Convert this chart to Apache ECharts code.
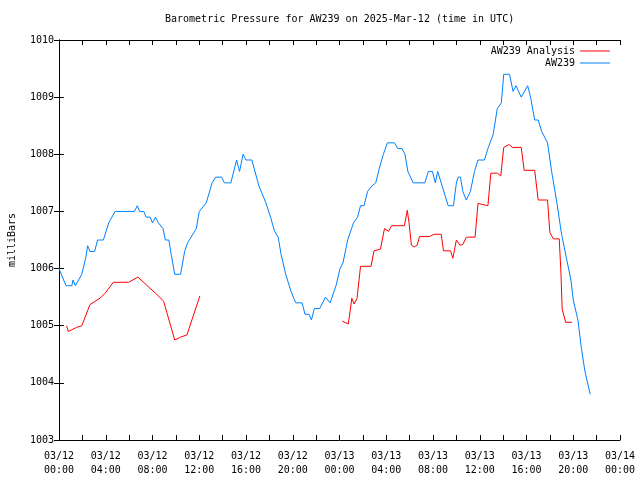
<!DOCTYPE html>
<html>
<head>
<meta charset="utf-8">
<script src="https://cdn.jsdelivr.net/npm/echarts@6/dist/echarts.min.js"></script>
<style>html,body{margin:0;padding:0;background:#fff}#c{width:640px;height:480px}</style>
</head>
<body>
<div id="c"></div>
<script>
var titleText = 'Barometric Pressure for AW239 on 2025-Mar-12 (time in UTC)';
var yTicks = [1003, 1004, 1005, 1006, 1007, 1008, 1009, 1010];
// hours since 03/12 00:00 UTC
var blueHours = [0.0,0.6,1.1,1.2,1.4,1.95,2.3,2.45,2.65,3.05,3.3,3.8,4.25,4.8,6.45,6.7,6.9,7.25,7.45,7.8,8.0,8.25,8.5,8.9,9.1,9.4,9.6,9.9,10.4,10.75,11.0,11.75,12.0,12.6,13.1,13.4,13.9,14.15,14.7,15.2,15.45,15.75,16.0,16.5,17.1,17.7,18.1,18.45,18.75,19.0,19.4,19.85,20.25,20.8,21.05,21.4,21.6,21.85,22.3,22.8,23.2,23.7,24.05,24.3,24.7,25.2,25.55,25.8,26.1,26.4,26.8,27.1,27.4,27.75,28.1,28.7,29.0,29.35,29.6,29.85,30.3,31.3,31.6,31.95,32.2,32.4,32.7,33.3,33.75,34.0,34.15,34.35,34.55,34.85,35.2,35.55,35.85,36.4,36.7,37.15,37.5,37.85,38.05,38.55,38.85,39.1,39.55,40.1,40.35,40.7,41.0,41.3,41.8,42.15,42.6,43.0,43.4,43.8,44.0,44.4,44.7,45.0,45.45];
var blueValues = [1006.0,1005.7,1005.7,1005.8,1005.7,1005.9,1006.2,1006.4,1006.3,1006.3,1006.5,1006.5,1006.8,1007.0,1007.0,1007.1,1007.0,1007.0,1006.9,1006.9,1006.8,1006.9,1006.8,1006.7,1006.5,1006.5,1006.25,1005.9,1005.9,1006.3,1006.45,1006.7,1007.0,1007.15,1007.5,1007.6,1007.6,1007.5,1007.5,1007.9,1007.7,1008.0,1007.9,1007.9,1007.45,1007.15,1006.9,1006.65,1006.55,1006.25,1005.9,1005.6,1005.4,1005.4,1005.2,1005.2,1005.1,1005.3,1005.3,1005.5,1005.4,1005.7,1006.0,1006.1,1006.5,1006.8,1006.9,1007.1,1007.1,1007.35,1007.45,1007.5,1007.75,1008.0,1008.2,1008.2,1008.1,1008.1,1008.0,1007.7,1007.5,1007.5,1007.7,1007.7,1007.5,1007.7,1007.5,1007.1,1007.1,1007.5,1007.6,1007.6,1007.35,1007.2,1007.35,1007.7,1007.9,1007.9,1008.1,1008.35,1008.8,1008.9,1009.4,1009.4,1009.1,1009.2,1009.0,1009.2,1009.0,1008.6,1008.6,1008.4,1008.2,1007.7,1007.15,1006.6,1006.2,1005.8,1005.45,1005.1,1004.6,1004.2,1003.8];
var redHours = [0.65,0.8,1.5,1.95,2.65,3.5,3.95,4.65,5.95,6.75,7.5,8.25,8.95,9.9,10.4,10.95,12.05,18.0,24.25,24.75,24.9,25.05,25.25,25.5,25.8,26.7,26.95,27.5,27.85,28.2,28.45,29.55,29.8,29.95,30.15,30.4,30.65,30.85,31.7,32.1,32.7,32.9,33.5,33.7,34.0,34.3,34.55,34.85,35.6,35.85,36.7,36.95,37.5,37.8,38.05,38.5,38.8,39.55,39.8,40.7,41.0,41.8,42.0,42.3,42.8,42.95,43.05,43.35,43.9];
var redValues = [1005.0,1004.9,1004.97,1005.0,1005.37,1005.48,1005.57,1005.76,1005.76,1005.85,1005.71,1005.57,1005.43,1004.75,1004.8,1004.84,1005.52,null,1005.08,1005.03,1005.24,1005.48,1005.38,1005.48,1006.04,1006.04,1006.31,1006.34,1006.7,1006.65,1006.75,1006.75,1007.02,1006.8,1006.41,1006.38,1006.41,1006.56,1006.56,1006.6,1006.6,1006.31,1006.31,1006.18,1006.5,1006.41,1006.42,1006.55,1006.55,1007.14,1007.1,1007.67,1007.67,1007.62,1008.12,1008.17,1008.12,1008.12,1007.72,1007.72,1007.2,1007.2,1006.63,1006.52,1006.52,1005.92,1005.29,1005.06,1005.06];

function pairs(xs, ys) { return xs.map(function (x, i) { return [x, ys[i]]; }); }
var FONT = '"DejaVu Sans Mono", "Liberation Mono", monospace';
function xLabel(h) {
  if (h % 4 !== 0) return '';
  var day = 12 + Math.floor(h / 24);
  var hr = h % 24;
  return '03/' + day + '\n' + (hr < 10 ? '0' : '') + hr + ':00';
}
var axisCommon = {
  axisLine: { show: true, lineStyle: { color: '#000', width: 1 } },
  axisTick: { show: true, inside: true, length: 5, lineStyle: { color: '#000', width: 1 } },
  splitLine: { show: false }
};
var chart = echarts.init(document.getElementById('c'), null, { renderer: 'canvas' });
chart.setOption({
  animation: false,
  backgroundColor: '#fff',
  title: { text: titleText, left: 165, top: 14, padding: 0,
    textStyle: { fontFamily: FONT, fontSize: 10, fontWeight: 'normal', color: '#000' } },
  legend: [
    { data: ['AW239 Analysis'], right: 30, top: 46, padding: 0, align: 'right', icon: 'rect', itemWidth: 30, itemHeight: 1,
      textStyle: { fontFamily: FONT, fontSize: 10, color: '#000' } },
    { data: ['AW239'], right: 30, top: 58, padding: 0, align: 'right', icon: 'rect', itemWidth: 30, itemHeight: 1,
      textStyle: { fontFamily: FONT, fontSize: 10, color: '#000' } }
  ],
  grid: { left: 59, right: 20, top: 40, bottom: 40, containLabel: false, outerBoundsMode: 'none' },
  xAxis: [
    Object.assign({ type: 'value', position: 'bottom', min: 0, max: 48, interval: 2,
      axisLabel: { formatter: xLabel, fontFamily: FONT, fontSize: 10, color: '#000', lineHeight: 14, margin: 9, showMinLabel: true, showMaxLabel: true } }, axisCommon),
    Object.assign({ type: 'value', position: 'top', min: 0, max: 48, interval: 2, axisLabel: { show: false } }, axisCommon)
  ],
  yAxis: [
    Object.assign({ type: 'value', position: 'left', min: yTicks[0], max: yTicks[yTicks.length - 1], interval: 1,
      name: 'milliBars', nameLocation: 'middle', nameRotate: 90, nameGap: 42,
      nameTextStyle: { fontFamily: FONT, fontSize: 10, color: '#000' },
      axisLabel: { fontFamily: FONT, fontSize: 10, color: '#000', margin: 5, formatter: function (v) { return String(v); } } }, axisCommon),
    Object.assign({ type: 'value', position: 'right', min: yTicks[0], max: yTicks[yTicks.length - 1], interval: 1, axisLabel: { show: false } }, axisCommon)
  ],
  series: [
    { name: 'AW239 Analysis', type: 'line', data: pairs(redHours, redValues), showSymbol: false, symbol: 'none',
      connectNulls: false, color: '#ff0000', lineStyle: { color: '#ff0000', width: 1 } },
    { name: 'AW239', type: 'line', data: pairs(blueHours, blueValues), showSymbol: false, symbol: 'none',
      color: '#0080ff', lineStyle: { color: '#0080ff', width: 1 } }
  ]
});
</script>
</body>
</html>
